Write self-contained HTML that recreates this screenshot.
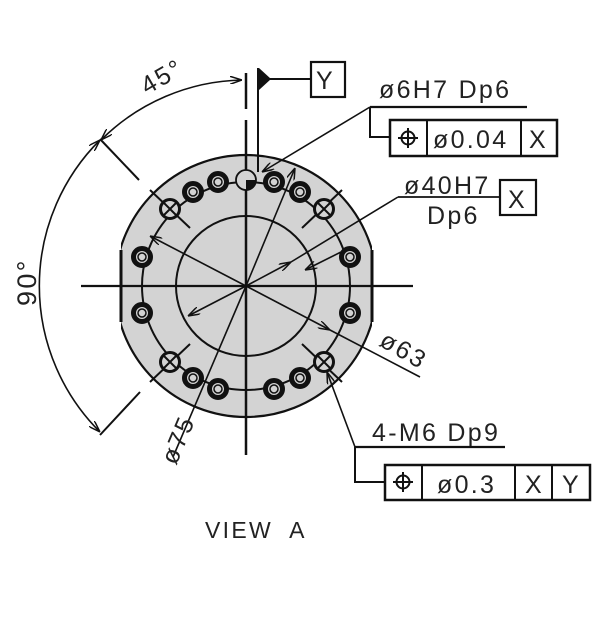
<!DOCTYPE html>
<html><head><style>
html,body{margin:0;padding:0;background:#fff;}
svg{display:block;}
text{font-family:"Liberation Sans",sans-serif;fill:#222;letter-spacing:2.3px;}
</style></head><body>
<svg width="600" height="626" viewBox="0 0 600 626" xmlns="http://www.w3.org/2000/svg">
<defs>
<marker id="a" viewBox="0 0 12 8" refX="12" refY="4" markerWidth="12" markerHeight="8" markerUnits="userSpaceOnUse" orient="auto-start-reverse">
<path d="M0,0 L12,4 L0,8" fill="none" stroke="#111" stroke-width="1.5"/>
</marker>
<clipPath id="c"><rect x="121" y="100" width="251" height="400"/></clipPath>
</defs>
<g stroke="#111" fill="none" stroke-width="2">
<circle cx="246" cy="286" r="131" fill="#d3d3d3" stroke="none" clip-path="url(#c)"/>
<circle cx="246" cy="286" r="131" clip-path="url(#c)" stroke-width="2.2"/>
<line x1="121" y1="250" x2="121" y2="322" stroke-width="3"/>
<line x1="372" y1="250" x2="372" y2="322" stroke-width="3"/>
<circle cx="246" cy="286" r="104"/>
<circle cx="246" cy="286" r="70"/>
<line x1="246" y1="73" x2="246" y2="109" stroke-width="2.5"/>
<line x1="246" y1="120" x2="246" y2="455" stroke-width="2.5"/>
<line x1="81" y1="286" x2="413" y2="286" stroke-width="2.2"/>
<line x1="150" y1="190" x2="190" y2="228"/>
<line x1="342" y1="190" x2="302" y2="228"/>
<line x1="150" y1="382" x2="190" y2="344"/>
<line x1="342" y1="382" x2="302" y2="344"/>
<g stroke-width="5" fill="#d3d3d3">
<circle cx="218" cy="182" r="8.5"/><circle cx="274" cy="182" r="8.5"/>
<circle cx="193" cy="192" r="8.5"/><circle cx="300" cy="192" r="8.5"/>
<circle cx="142" cy="257" r="8.5"/><circle cx="350" cy="257" r="8.5"/>
<circle cx="142" cy="313" r="8.5"/><circle cx="350" cy="313" r="8.5"/>
<circle cx="193" cy="378" r="8.5"/><circle cx="300" cy="378" r="8.5"/>
<circle cx="218" cy="389" r="8.5"/><circle cx="274" cy="389" r="8.5"/>
</g>
<g stroke-width="1.5">
<circle cx="218" cy="182" r="4"/><circle cx="274" cy="182" r="4"/>
<circle cx="193" cy="192" r="4"/><circle cx="300" cy="192" r="4"/>
<circle cx="142" cy="257" r="4"/><circle cx="350" cy="257" r="4"/>
<circle cx="142" cy="313" r="4"/><circle cx="350" cy="313" r="4"/>
<circle cx="193" cy="378" r="4"/><circle cx="300" cy="378" r="4"/>
<circle cx="218" cy="389" r="4"/><circle cx="274" cy="389" r="4"/>
</g>
<g stroke-width="3" fill="#d3d3d3">
<circle cx="170" cy="209" r="9.5"/><circle cx="324" cy="209" r="9.5"/>
<circle cx="170" cy="362" r="9.5"/><circle cx="324" cy="362" r="9.5"/>
</g>
<g stroke-width="2">
<path d="M164,203 L176,215 M176,203 L164,215"/>
<path d="M318,203 L330,215 M330,203 L318,215"/>
<path d="M164,356 L176,368 M176,356 L164,368"/>
<path d="M318,356 L330,368 M330,356 L318,368"/>
</g>
<circle cx="246" cy="180" r="10" stroke-width="1.8" fill="#d3d3d3"/>
<path d="M246,180 L256,180 A10,10 0 0 1 246,190 Z" fill="#111" stroke="none"/>
<line x1="246" y1="286" x2="150" y2="236" marker-end="url(#a)" stroke-width="1.6"/>
<line x1="246" y1="286" x2="330" y2="330" marker-end="url(#a)" stroke-width="1.6"/>
<line x1="330" y1="330" x2="420" y2="377" stroke-width="1.6"/>
<line x1="246" y1="286" x2="188" y2="316" marker-end="url(#a)" stroke-width="1.6"/>
<line x1="246" y1="286" x2="291" y2="262" marker-end="url(#a)" stroke-width="1.6"/>
<line x1="291" y1="262" x2="398" y2="197" stroke-width="1.6"/>
<line x1="398" y1="197" x2="500" y2="197" stroke-width="1.8"/>
<line x1="246" y1="286" x2="295" y2="168" marker-end="url(#a)" stroke-width="1.6"/>
<line x1="246" y1="286" x2="173" y2="457" stroke-width="1.6"/>
<line x1="341" y1="252" x2="305" y2="270" marker-end="url(#a)" stroke-width="1.6"/>
<line x1="100" y1="139" x2="139" y2="180"/>
<line x1="100" y1="435" x2="140" y2="392"/>
<path d="M101,140 A206,206 0 0 1 242,80" marker-start="url(#a)" marker-end="url(#a)" stroke-width="1.6"/>
<path d="M100,140 A206,206 0 0 0 100,432" marker-start="url(#a)" marker-end="url(#a)" stroke-width="1.6"/>
<line x1="258" y1="68" x2="258" y2="172" stroke-width="2"/>
<path d="M259,68 L271,79 L259,90 Z" fill="#111" stroke="none"/>
<line x1="270" y1="79" x2="311" y2="79"/>
<rect x="311" y="62" width="34" height="35" stroke-width="2.2"/>
<line x1="370" y1="107" x2="262" y2="172" marker-end="url(#a)" stroke-width="1.6"/>
<line x1="370" y1="107" x2="527" y2="107" stroke-width="2.2"/>
<polyline points="370,107 370,137 391,137" stroke-width="2"/>
<rect x="390" y="120" width="167" height="36" stroke-width="2.5"/>
<line x1="427" y1="120" x2="427" y2="156" stroke-width="2"/>
<line x1="521" y1="120" x2="521" y2="156" stroke-width="2"/>
<circle cx="408" cy="138" r="6.5" stroke-width="2"/>
<path d="M398,138 H418 M408,128 V148" stroke-width="2"/>
<rect x="500" y="180" width="36" height="35" stroke-width="2.2"/>
<line x1="355" y1="447" x2="327" y2="372" marker-end="url(#a)" stroke-width="1.6"/>
<line x1="355" y1="447" x2="505" y2="447" stroke-width="2.2"/>
<polyline points="355,447 355,482 386,482" stroke-width="2"/>
<rect x="385" y="465" width="205" height="35" stroke-width="2.5"/>
<line x1="422" y1="465" x2="422" y2="500" stroke-width="2"/>
<line x1="515" y1="465" x2="515" y2="500" stroke-width="2"/>
<line x1="552" y1="465" x2="552" y2="500" stroke-width="2"/>
<circle cx="403" cy="482" r="6.5" stroke-width="2"/>
<path d="M393,482 H413 M403,472 V492" stroke-width="2"/>
</g>
<g font-size="25">
<text x="316" y="89" letter-spacing="0">Y</text>
<text x="379" y="98">ø6H7 Dp6</text>
<text x="433" y="148">ø0.04</text>
<text x="529" y="148" letter-spacing="0">X</text>
<text x="404" y="194">ø40H7</text>
<text x="427" y="224">Dp6</text>
<text x="508" y="208" letter-spacing="0">X</text>
<text x="372" y="441">4-M6 Dp9</text>
<text x="437" y="493">ø0.3</text>
<text x="525" y="493" letter-spacing="0">X</text>
<text x="562" y="493" letter-spacing="0">Y</text>
<text transform="translate(378,345) rotate(30)">ø63</text>
<text transform="translate(176,466) rotate(-67)">ø75</text>
<text transform="translate(147,95) rotate(-30)">45°</text>
<text transform="translate(36,306) rotate(-90)" font-size="27">90°</text>
<text x="205" y="538" font-size="23" xml:space="preserve">VIEW  A</text>
</g>
</svg>
</body></html>
